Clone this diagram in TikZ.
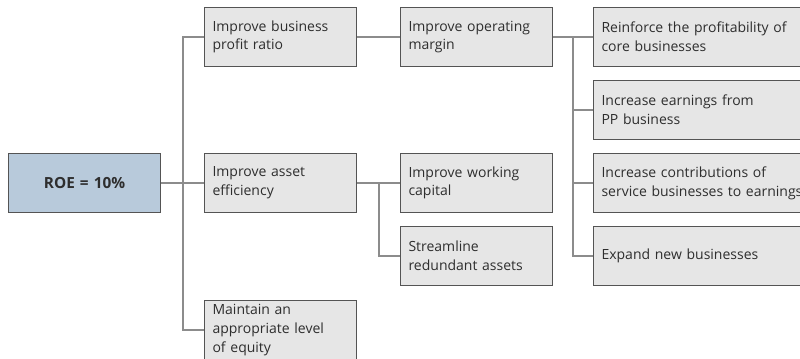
\documentclass[tikz,border=0pt]{standalone}
\usepackage{fontspec}
\setmainfont{Open Sans}
\usetikzlibrary{positioning}
\definecolor{boxgray}{HTML}{E6E6E6}
\definecolor{roeblue}{HTML}{B8CADB}
\definecolor{edgegray}{HTML}{545454}
\definecolor{linkgray}{HTML}{8C8C8C}
\definecolor{textgray}{HTML}{2E2E2E}
\tikzset{
  {goal/.style} ={rectangle, draw=edgegray, line width=0.8pt, fill=boxgray,
                  anchor=west, minimum height=44pt, text width=102pt,
                  align=left, inner xsep=6pt,
                  font=\fontsize{10.5}{14}\selectfont, text=textgray},
  {wide goal/.style} ={goal, text width=160pt},
  {root/.style} ={goal, fill=roeblue, align=center, font=\bfseries\fontsize{11.5}{14}\selectfont},
  {link/.style} ={draw=linkgray, line width=1.1pt},
}
\begin{document}
\begin{tikzpicture}[x=0.75pt,y=-0.75pt]
\useasboundingbox (0,0) rectangle (800,358);
\clip (0,0) rectangle (800,358);
% root
\node[root] (roe) at (8,183) {ROE = 10\%};
% second level
\node[goal] (profit) at (204,37) {Improve business\\profit ratio};
\node[goal] (asset)  at (204,183) {Improve asset\\efficiency};
\node[goal] (equity) at (204,330) {Maintain an\\appropriate level\\of equity};
% third level
\node[goal] (margin)  at (400,37) {Improve operating\\margin};
\node[goal] (capital) at (400,183) {Improve working\\capital};
\node[goal] (assets)  at (400,256) {Streamline\\redundant assets};
% fourth level
\node[wide goal] (core)    at (593,37) {Reinforce the profitability of\\core businesses};
\node[wide goal] (pp)      at (593,110) {Increase earnings from\\PP business};
\node[wide goal] (service) at (593,183) {Increase contributions of\\service businesses to earnings};
\node[wide goal] (newbiz)  at (593,256) {Expand new businesses};
% joints
\coordinate (j1) at (183,183);
\coordinate (j2) at (379,183);
\coordinate (j3) at (573,37);
\path[link]
  (roe) -- (asset)
  (profit.west) -| (j1) |- (equity.west)
  (asset) -- (capital)
  (j2) |- (assets.west)
  (margin) -- (core)
  (j3) |- (pp.west)
  (j3) |- (service.west)
  (j3) |- (newbiz.west)
  (profit) -- (margin);
\end{tikzpicture}
\end{document}
